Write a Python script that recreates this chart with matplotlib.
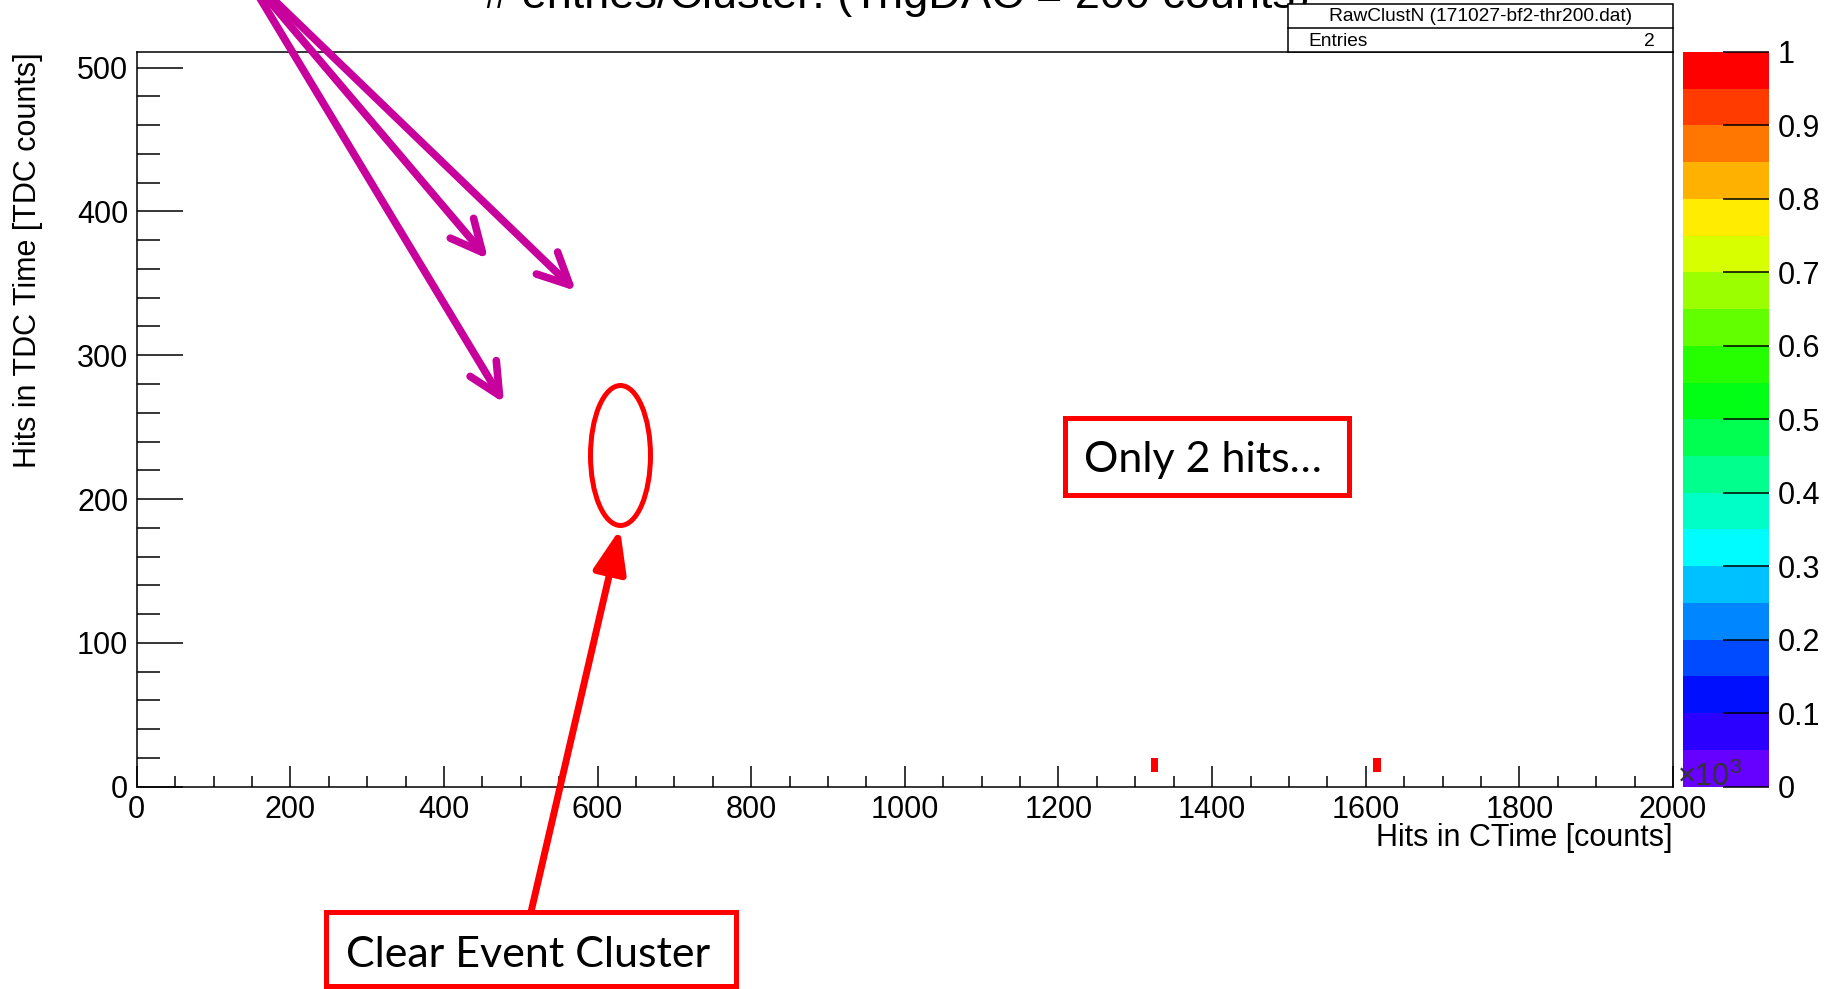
import numpy as np
import matplotlib
matplotlib.use('Agg')
import matplotlib.pyplot as plt
from matplotlib.colors import ListedColormap, Normalize, hsv_to_rgb
from matplotlib.cm import ScalarMappable
from matplotlib.patches import Rectangle, Ellipse, FancyArrowPatch

# データ (2 hits only)
hit_ctime = [1325, 1615]
hit_tdc = [15, 15]
n_entries = len(hit_ctime)

xticks = [0, 200, 400, 600, 800, 1000, 1200, 1400, 1600, 1800, 2000]
yticks = [0, 100, 200, 300, 400, 500]
cbar_ticks = [0, 0.1, 0.2, 0.3, 0.4, 0.5, 0.6, 0.7, 0.8, 0.9, 1]
cbar_labels = ['0', '0.1', '0.2', '0.3', '0.4', '0.5', '0.6', '0.7', '0.8', '0.9', '1']

title = '# entries/Cluster: (TrigDAC = 200 counts)'
stat_name = 'RawClustN (171027-bf2-thr200.dat)'

plt.rcParams['font.family'] = ['Liberation Sans', 'DejaVu Sans']
plt.rcParams['mathtext.fontset'] = 'custom'
plt.rcParams['mathtext.rm'] = 'Liberation Sans'

W, H = 1831, 989
fig = plt.figure(figsize=(W / 100, H / 100), dpi=100)

# pixel -> figure fraction
def fx(x):
    return x / W

def fy(y):
    return 1 - y / H

fs = 22  # 軸まわりの文字サイズ

ax_l, ax_r, ax_t, ax_b = 136.7, 1673, 51.8, 786.7
ax = fig.add_axes([fx(ax_l), fy(ax_b), (ax_r - ax_l) / W, (ax_b - ax_t) / H])

# ROOT風 20段パレット
hues = np.linspace(264, 0, 20) / 360
cmap = ListedColormap(hsv_to_rgb(np.column_stack([hues, np.ones(20), np.ones(20)])))
norm = Normalize(0, 1)

ax.hist2d(hit_ctime, hit_tdc, bins=[np.arange(0, 2001, 10), np.arange(0, 521, 10)],
          cmap=cmap, norm=norm, cmin=1)
ax.set_xlim(0, 2000)
ax.set_ylim(0, 511)
ax.set_xticks(xticks)
ax.set_xticks(np.arange(0, 2001, 50), minor=True)
ax.set_yticks(yticks)
ax.set_yticks(np.arange(0, 511, 20), minor=True)
ax.tick_params(axis='x', which='major', direction='in', length=15, width=1.1, labelsize=fs, pad=6)
ax.tick_params(axis='x', which='minor', direction='in', length=8, width=1.1)
ax.tick_params(axis='y', which='major', direction='in', length=33, width=1.1, labelsize=fs, pad=6)
ax.tick_params(axis='y', which='minor', direction='in', length=16.5, width=1.1)
for s in ax.spines.values():
    s.set_linewidth(1.1)

# カラーバー
cax = fig.add_axes([fx(1683), fy(ax_b), (1769 - 1683) / W, (ax_b - ax_t) / H])
cb = fig.colorbar(ScalarMappable(norm=norm, cmap=cmap), cax=cax)
cb.outline.set_visible(False)
cb.set_ticks(cbar_ticks, labels=cbar_labels)
cax.tick_params(direction='in', length=33, width=1.1, labelsize=fs, pad=6)

# テキスト類
fig.text(fx(897), fy(8), title, ha='center', va='baseline', fontsize=32.5)
fig.text(fx(28), fy(52), 'Hits in TDC Time [TDC counts]', rotation=90, ha='center', va='top', fontsize=fs)
fig.text(fx(1673), fy(838), 'Hits in CTime [counts]', ha='right', va='center', fontsize=fs)
fig.text(fx(1677), fy(786), r'$\times\mathregular{10^{3}}$', ha='left', va='baseline', fontsize=fs,
         color='#333333', zorder=10)

# 統計ボックス
fig.add_artist(Rectangle((fx(1288), fy(51.8)), (1673 - 1288) / W, (51.8 - 4) / H, transform=fig.transFigure,
                         fc='white', ec='black', lw=1.1, zorder=5))
fig.add_artist(plt.Line2D([fx(1288), fx(1673)], [fy(28), fy(28)], transform=fig.transFigure,
                          color='black', lw=1.1, zorder=6))
fig.text(fx(1480.5), fy(16.5), stat_name, ha='center', va='center', fontsize=13.8, zorder=7)
fig.text(fx(1308), fy(41), 'Entries', ha='left', va='center', fontsize=13.8, zorder=7)
fig.text(fx(1655), fy(41), str(n_entries), ha='right', va='center', fontsize=13.8, zorder=7)

# 注釈 (スライド上の書き込み)
mag = '#C8009C'
src = (243, -30)
for tip in [(488, 259), (576, 291), (504, 403)]:
    fig.add_artist(FancyArrowPatch((fx(src[0]), fy(src[1])), (fx(tip[0]), fy(tip[1])),
                                   transform=fig.transFigure,
                                   arrowstyle='->,head_length=2.27,head_width=1.1', mutation_scale=10,
                                   lw=5.5, color=mag, capstyle='round', joinstyle='round',
                                   shrinkA=0, shrinkB=0, zorder=10))

fig.add_artist(Ellipse((fx(620.5), fy(455.5)), 60 / W, 140 / H, transform=fig.transFigure,
                       fill=False, ec='red', lw=3.6, zorder=10))
fig.add_artist(FancyArrowPatch((fx(531), fy(912)), (fx(620), fy(529)), transform=fig.transFigure,
                               arrowstyle='-|>,head_length=2.6,head_width=1.0', mutation_scale=10,
                               lw=5, color='red', shrinkA=0, shrinkB=0, zorder=10))

fig.add_artist(Rectangle((fx(326.5), fy(985.5)), 409 / W, 74 / H, transform=fig.transFigure,
                         fc='white', ec='red', lw=3.6, zorder=11))
fig.text(fx(528.5), fy(967), 'Clear Event Cluster', ha='center', va='baseline', fontsize=31,
         family=['Lato', 'DejaVu Sans'], zorder=12)

fig.add_artist(Rectangle((fx(1065.5), fy(495.5)), 284 / W, 77 / H, transform=fig.transFigure,
                         fc='white', ec='red', lw=3.6, zorder=11))
fig.text(fx(1202.5), fy(472), 'Only 2 hits\u2026', ha='center', va='baseline', fontsize=31,
         family=['Lato', 'DejaVu Sans'], zorder=12)

fig.savefig('out.png', dpi=100)
